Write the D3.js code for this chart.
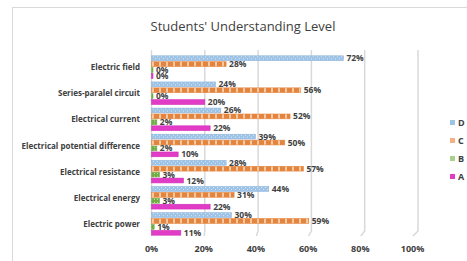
<!DOCTYPE html>
<html>
<head>
<meta charset="utf-8">
<script src="https://cdn.jsdelivr.net/npm/d3@7"></script>
<style>
  body { margin: 0; background: #fff; }
  text { font-family: "Open Sans", sans-serif; fill: #404040; }
</style>
</head>
<body>
<svg class="chart" width="467" height="261"></svg>
<script>
// Data
const categories = ['Electric field', 'Series-paralel circuit', 'Electrical current',
  'Electrical potential difference', 'Electrical resistance', 'Electrical energy', 'Electric power'];
const seriesNames = ['D', 'C', 'B', 'A'];
const valuesD = [72, 24, 26, 39, 28, 44, 30];
const valuesC = [28, 56, 52, 50, 57, 31, 59];
const valuesB = [0, 0, 2, 2, 3, 3, 1];
const valuesA = [0, 20, 22, 10, 12, 22, 11];
const xTicks = [0, 20, 40, 60, 80, 100];

const seriesValues = { D: valuesD, C: valuesC, B: valuesB, A: valuesA };

const svg = d3.select('.chart');

// Outer chart border
svg.append('rect').attr('x', 12.5).attr('y', 7.5).attr('width', 500).attr('height', 300)
  .attr('fill', 'none').attr('stroke', '#d9d9d9');

// Patterns
const defs = svg.append('defs');
const pD = defs.append('pattern').attr('id', 'pD').attr('patternUnits', 'userSpaceOnUse')
  .attr('width', 4).attr('height', 4);
pD.append('rect').attr('width', 4).attr('height', 4).attr('fill', '#9dc3e6');
pD.append('rect').attr('x', 1).attr('y', 1).attr('width', 1).attr('height', 1).attr('fill', '#dbe9f6');
pD.append('rect').attr('x', 3).attr('y', 3).attr('width', 1).attr('height', 1).attr('fill', '#dbe9f6');
const pC = defs.append('pattern').attr('id', 'pC').attr('patternUnits', 'userSpaceOnUse')
  .attr('width', 7).attr('height', 6);
pC.append('rect').attr('width', 7).attr('height', 6).attr('fill', '#e4853f');
pC.append('rect').attr('x', 5).attr('width', 2).attr('height', 6).attr('fill', '#f6c9a3');
const pB = defs.append('pattern').attr('id', 'pB').attr('patternUnits', 'userSpaceOnUse')
  .attr('width', 3).attr('height', 3);
pB.append('rect').attr('width', 3).attr('height', 3).attr('fill', '#70ad47');
pB.append('rect').attr('x', 1).attr('y', 1).attr('width', 1).attr('height', 1).attr('fill', '#c5e0b4');

const fills = { D: 'url(#pD)', C: 'url(#pC)', B: 'url(#pB)', A: '#e03cc6' };
const strokes = { D: '#8fb4dc', C: '#e4853f', B: '#70ad47', A: '#d52fba' };
const legendFills = { D: '#9dc3e6', C: '#f4b183', B: '#a9d18e', A: '#e03cc6' };

// Scales
const x = d3.scaleLinear().domain([0, 100]).range([151.5, 418]);
const xFront = d3.scaleLinear().domain([0, 100]).range([151, 412]);
const y = d3.scaleBand().domain(categories).range([54, 237]).paddingInner(0.1).paddingOuter(0.05);
const ySub = d3.scaleBand().domain(seriesNames).range([0, y.bandwidth()]).paddingInner(0.02);

// Gridlines with a small slanted foot
svg.append('g').selectAll('path').data(xTicks).enter().append('path')
  .attr('d', d => `M${x(d)},50 L${x(d)},231 L${xFront(d) + 1},236`)
  .attr('fill', 'none').attr('stroke', '#d9d9d9').attr('stroke-width', 1.5);

// Title
svg.append('text').attr('x', 243).attr('y', 31).attr('text-anchor', 'middle')
  .style('font-size', '13px').text("Students' Understanding Level");

// Category labels
svg.append('g').selectAll('text').data(categories).enter().append('text')
  .attr('x', 140).attr('y', d => y(d) + y.bandwidth() / 2 + 3)
  .attr('text-anchor', 'end').style('font-size', '8px').style('font-weight', 'bold')
  .text(d => d);

// Bars
const groups = svg.append('g').selectAll('g').data(categories).enter().append('g')
  .attr('transform', d => `translate(0,${y(d)})`);

groups.selectAll('rect').data((d, i) => seriesNames.map(s => ({ s, v: seriesValues[s][i] })))
  .enter().append('rect')
  .attr('x', x(0))
  .attr('y', d => ySub(d.s) + 0.5)
  .attr('width', d => Math.max(x(d.v) - x(0), 1.5))
  .attr('height', ySub.bandwidth() - 1)
  .attr('fill', d => fills[d.s])
  .attr('stroke', d => strokes[d.s]).attr('stroke-width', 0.6);

groups.selectAll('text').data((d, i) => seriesNames.map(s => ({ s, v: seriesValues[s][i] })))
  .enter().append('text')
  .attr('x', d => Math.max(x(d.v), x(0) + 1.5) + 3)
  .attr('y', d => ySub(d.s) + ySub.bandwidth() / 2 + 3)
  .style('font-size', '8.5px').style('font-weight', 'bold')
  .text(d => d.v + '%');

// X axis labels
const xAxis = d3.axisBottom(xFront).tickValues(xTicks).tickSize(0).tickFormat(d => d + '%');
const axisG = svg.append('g').attr('transform', 'translate(0,243)').call(xAxis);
axisG.select('.domain').remove();
axisG.selectAll('text').style('font-size', '9px').style('font-weight', 'bold')
  .style('font-family', '"Open Sans", sans-serif').attr('fill', '#404040');

// Legend
const legend = svg.append('g').selectAll('g').data(seriesNames).enter().append('g')
  .attr('transform', (d, i) => `translate(450,${120 + i * 18})`);
legend.append('rect').attr('width', 5).attr('height', 5).attr('fill', d => legendFills[d]);
legend.append('text').attr('x', 8).attr('y', 5.5).style('font-size', '9px')
  .style('font-weight', 'bold').text(d => d);
</script>
</body>
</html>
